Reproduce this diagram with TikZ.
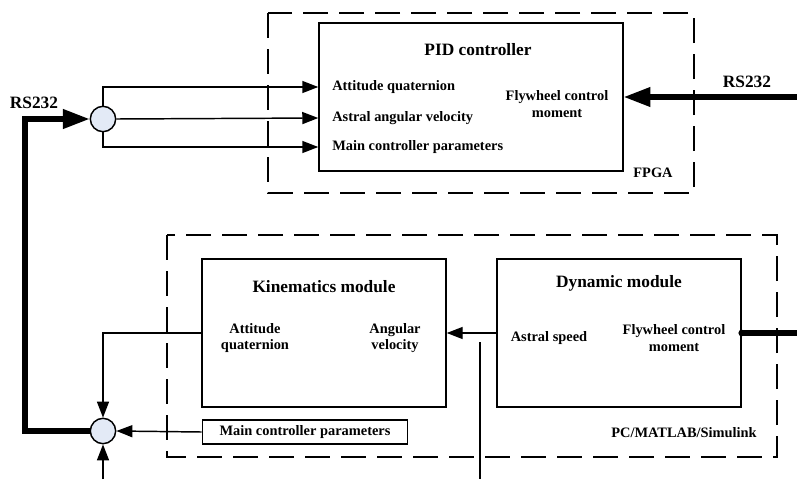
\documentclass[tikz,border=0pt]{standalone}
\usepackage{fontspec}
\setmainfont{Liberation Serif}
\usetikzlibrary{arrows.meta}
\definecolor{sumfill}{RGB}{227,234,246}
\tikzset{
	blk/.style={draw, line width=1.1pt, minimum height=111pt},
	sumnode/.style={draw, circle, line width=1.1pt, fill=sumfill, minimum size=19pt, inner sep=0pt},
	grp/.style={line width=1.1pt, dash pattern=on 19pt off 8pt},
	lbl/.style={font=\bfseries\fontsize{10.8}{12.5}\selectfont, inner sep=0pt, align=center},
	ttl/.style={font=\bfseries\fontsize{13}{15}\selectfont, inner sep=0pt},
	arr/.style={line width=1.1pt, -{Triangle[length=12pt,width=9pt]}},
	thickarr/.style={line width=3.8pt, -{Triangle[length=20pt,width=14pt]}},
	thickline/.style={line width=3.8pt}
}
\begin{document}
\begin{tikzpicture}[x=0.75pt, y=-0.75pt]
	\useasboundingbox (0,0) rectangle (797,479);
	
	% groups
	\draw[grp] (268,13) rectangle (694,193);
	\draw[grp] (167,235) rectangle (777,457);
	\node[lbl] (fpga) at (653,173) {FPGA};
	\node[lbl] (pcsim) at (684,433) {PC/MATLAB/Simulink};
	
	% blocks
	\node[blk, minimum width=228pt] (pid) at (471,97) {};
	\node[blk, minimum width=183pt] (kin) at (324,333) {};
	\node[blk, minimum width=183pt] (dyn) at (619,333) {};
	\node[draw, line width=1.1pt, minimum width=154pt, minimum height=18pt, lbl] (mcp) at (305,432) {Main controller parameters};
	
	\node[ttl] at (478,50) {PID controller};
	\node[ttl] at (324,287) {Kinematics module};
	\node[ttl] at (619,283) {Dynamic module};
	
	\node[lbl, anchor=west] (pidaq) at (332,87) {Attitude quaternion};
	\node[lbl, anchor=west] (pidav) at (332,118) {Astral angular velocity};
	\node[lbl, anchor=west] (pidmp) at (332,147) {Main controller parameters};
	\node[lbl] (pidfw) at (557,104) {Flywheel control\\moment};
	
	\node[lbl] (kinaq) at (255,338) {Attitude\\quaternion};
	\node[lbl] (kinav) at (395,338) {Angular\\velocity};
	\node[lbl] (dynas) at (549,338) {Astral speed};
	\node[lbl] (dynfw) at (674,338) {Flywheel control\\moment};
	
	% summing points
	\node[sumnode] (sum1) at (103,119) {};
	\node[sumnode] (sum2) at (103,431) {};
	
	\node[ttl] (rsl) at (34,103) {RS232};
	\node[ttl] (rsr) at (747,82) {RS232};
	
	\coordinate (rsin) at (797,97);
	\coordinate (bend) at (25,431);
	\coordinate (dynout) at (797,333);
	\coordinate (tapt) at (480,342);
	\coordinate (tapb) at (480,479);
	\coordinate (fb) at (103,479);
	
	% connections
	\draw[thickarr] (rsin) -- (pid.east |- rsin);
	\draw[thickarr] (sum2.west) -- (bend) |- (sum1.west);
	\draw[arr] (sum1.north) |- (pid.west |- pidaq);
	\draw[arr] (sum1.east) -- (pid.west |- pidav);
	\draw[arr] (sum1.south) |- (pid.west |- pidmp);
	\draw[arr] (dyn.west |- 0,333) -- (kin.east |- 0,333);
	\draw[line width=1.1pt] (tapt) -- (tapb);
	\draw[thickline] (dyn.east |- dynout) -- (dynout);
	\fill (dyn.east |- dynout) circle (2.5pt);
	\draw[arr] (kin.west |- 0,333) -| (sum2.north);
	\draw[arr] (mcp.west) -- (sum2.east);
	\draw[arr] (fb) -- (sum2.south);
\end{tikzpicture}
\end{document}
